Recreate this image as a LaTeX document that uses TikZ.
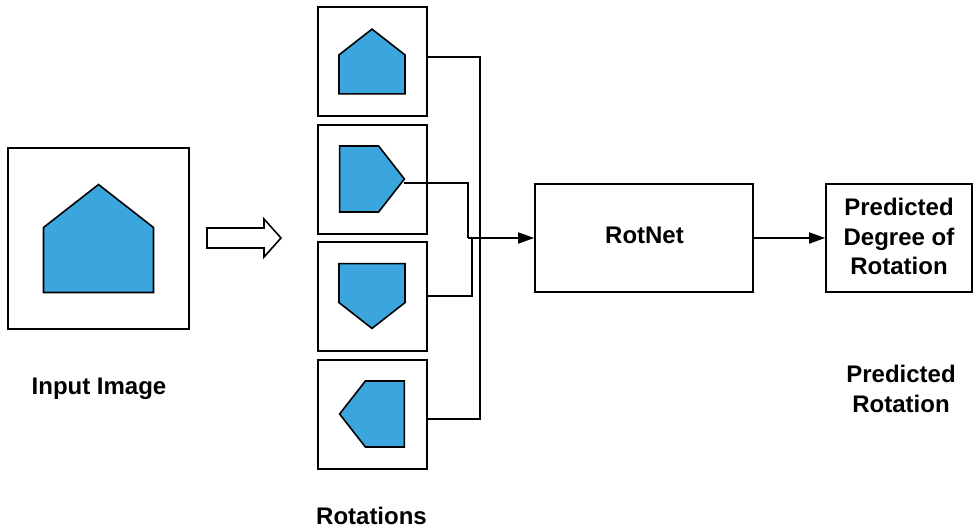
\documentclass[tikz,border=0pt]{standalone}
\usepackage{fontspec}
\setmainfont{Liberation Sans}
\usetikzlibrary{arrows.meta,calc}
\definecolor{shapeblue}{RGB}{58,166,221}
\begin{document}
\begin{tikzpicture}[x=1pt,y=-1pt,
  frame/.style={draw=black,line width=2pt,minimum width=#1,minimum height=#1,inner sep=0pt},
  blockbox/.style={draw=black,line width=1.6pt,minimum width=218pt,minimum height=108pt,inner sep=0pt},
  pent/.style={fill=shapeblue,draw=black,line width=1.6pt,line join=miter},
  conn/.style={line width=1.6pt},
  lab/.style={font=\fontsize{24}{29.5}\selectfont\bfseries,align=center,inner sep=0pt},
  tip/.style={-{Triangle[length=16pt,width=11pt]}}]
\useasboundingbox (0,0) rectangle (980,531);
% input image
\node[frame=181pt] (inp) at (98.5,238.5) {};
\draw[pent] (inp.center) ++(-55,54) -- ++(110,0) -- ++(0,-65) -- ++(-55,-43) -- ++(-55,43) -- cycle;
\node[lab] (inplab) at (99,389) {Input Image};
% hollow arrow
\draw[line width=1.6pt,line join=miter] (207,228) -- (264,228) -- (264,219) -- (281,238) -- (264,257) -- (264,248) -- (207,248) -- cycle;
% rotation boxes
\node[frame=109pt] (r1) at (372,61.5) {};
\node[frame=109pt] (r2) at (372,179) {};
\node[frame=109pt] (r3) at (372,296) {};
\node[frame=109pt] (r4) at (372,414) {};
\foreach \b/\a in {r1/0,r2/-90,r3/180,r4/90}{
  \begin{scope}[shift={(\b.center)},rotate=\a,scale=0.6]
    \draw[pent] (-55,54) -- (55,54) -- (55,-11) -- (0,-54) -- (-55,-11) -- cycle;
  \end{scope}
}
\coordinate (t2) at (404,183);
\node[lab] (rotlab) at (371.5,516) {Rotations};
% RotNet
\node[blockbox] (net) at (644,238) {};
\node[lab] (netlab) at (644.5,235) {RotNet};
% output
\node[draw=black,line width=1.6pt,minimum width=146pt,minimum height=108pt,inner sep=0pt] (out) at (899,238) {};
\node[lab] (outlab) at (899,236.5) {Predicted\\Degree of\\Rotation};
\node[lab] (predlab) at (901,389) {Predicted\\Rotation};
% connectors
\coordinate (j1) at (468,238);
\coordinate (j2) at (472,238);
\coordinate (bus) at (480,0);
\draw[conn] ([yshift=4.5pt]r1.east) -- ([yshift=4.5pt]r1.east -| bus) -- ([yshift=-5pt]r4.east -| bus) -- ([yshift=-5pt]r4.east);
\draw[conn] (t2) -| (j1);
\draw[conn] (r3.east) -| (j2);
\draw[conn,tip] (j1) -- (net.west);
\draw[conn,tip] (net.east) -- (out.west);
\end{tikzpicture}
\end{document}
